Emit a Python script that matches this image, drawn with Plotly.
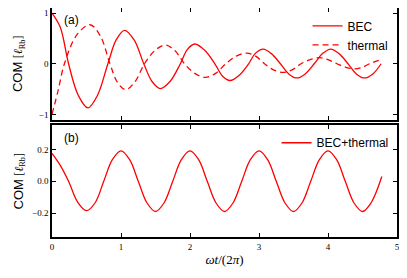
import plotly.graph_objects as go
from plotly.subplots import make_subplots

# ---- data ----
t_bec = [0, 0.12, 0.24, 0.38, 0.52, 0.66, 0.81, 0.93, 1.05, 1.19, 1.33, 1.45, 1.57, 1.71,
         1.86, 1.96, 2.07, 2.21, 2.36, 2.47, 2.58, 2.71, 2.85, 2.95, 3.06, 3.18, 3.31, 3.43,
         3.55, 3.67, 3.80, 3.92, 4.04, 4.16, 4.29, 4.41, 4.53, 4.65, 4.77]
bec = [1.0, 0.72, 0.0, -0.62, -0.87, -0.62, 0.0, 0.47, 0.66, 0.47, 0.0, -0.35, -0.49, -0.35,
       0.0, 0.28, 0.39, 0.27, 0.0, -0.24, -0.33, -0.23, 0.0, 0.21, 0.29, 0.20, 0.0, -0.20,
       -0.28, -0.20, 0.0, 0.20, 0.29, 0.20, 0.0, -0.20, -0.28, -0.20, 0.0]

t_th = [0, 0.09, 0.18, 0.36, 0.55, 0.70, 0.84, 0.95, 1.07, 1.20, 1.34, 1.49, 1.64, 1.78,
        1.92, 2.07, 2.22, 2.37, 2.52, 2.67, 2.82, 2.95, 3.08, 3.21, 3.35, 3.48, 3.61, 3.74,
        3.88, 4.00, 4.13, 4.26, 4.39, 4.50, 4.60, 4.77]
thermal = [-1.0, -0.52, 0.0, 0.57, 0.77, 0.55, 0.0, -0.37, -0.51, -0.36, 0.0, 0.26, 0.37, 0.26,
           0.0, -0.19, -0.27, -0.19, 0.0, 0.15, 0.21, 0.15, 0.0, -0.12, -0.17, -0.12, 0.0, 0.08,
           0.12, 0.08, 0.0, -0.07, -0.10, -0.07, 0.0, 0.08]

t_mix = [0, 0.12, 0.24, 0.37, 0.5, 0.625, 0.75, 0.875, 1.0, 1.125, 1.25, 1.375, 1.5, 1.625,
         1.75, 1.875, 2.0, 2.125, 2.25, 2.375, 2.5, 2.625, 2.75, 2.875, 3.0, 3.125, 3.25,
         3.375, 3.5, 3.625, 3.75, 3.875, 4.0, 4.125, 4.25, 4.375, 4.5, 4.625, 4.78]
mix = [0.175, 0.10, 0.0, -0.13, -0.185, -0.135, 0.0, 0.135, 0.19, 0.135, 0.0, -0.135, -0.19, -0.135,
       0.0, 0.135, 0.19, 0.135, 0.0, -0.135, -0.19, -0.135, 0.0, 0.135, 0.19, 0.135, 0.0,
       -0.135, -0.19, -0.135, 0.0, 0.135, 0.19, 0.135, 0.0, -0.135, -0.19, -0.135, 0.03]

x_ticks = [0, 1, 2, 3, 4, 5]
top_ticks = [-1, 0, 1]
top_labels = ["\u22121", "0", "1"]
bot_ticks = [-0.2, 0.0, 0.2]
bot_labels = ["\u22120.2", "0.0", "0.2"]

RED = "#ff0000"
SERIF = "Liberation Serif"
SANS = "Liberation Sans"

fig = make_subplots(rows=2, cols=1, shared_xaxes=False, vertical_spacing=0.03)

line_kw = dict(color=RED, width=1.3, shape="spline", smoothing=1.0)
fig.add_trace(go.Scatter(x=t_bec, y=bec, mode="lines", name="BEC",
                         line=line_kw, legend="legend"), row=1, col=1)
fig.add_trace(go.Scatter(x=t_th, y=thermal, mode="lines", name="thermal",
                         line=dict(line_kw, dash="6px,4px"), legend="legend"), row=1, col=1)
fig.add_trace(go.Scatter(x=t_mix, y=mix, mode="lines", name="BEC+thermal",
                         line=line_kw, legend="legend2"), row=2, col=1)

axis_common = dict(showline=True, mirror="allticks", linecolor="black", linewidth=1.6,
                   ticks="inside", ticklen=4, tickwidth=0.8, tickcolor="black",
                   showgrid=False, zeroline=False, automargin=False,
                   tickfont=dict(family=SERIF, size=9, color="black"))

fig.update_xaxes(range=[0, 5], tickvals=x_ticks, **axis_common)
fig.update_xaxes(showticklabels=False, row=1, col=1)
fig.update_xaxes(ticktext=[str(v) for v in x_ticks], row=2, col=1,
                 title=dict(text="<i>\u03c9t</i>/(2<i>\u03c0</i>)",
                            font=dict(family=SERIF, size=13, color="black"), standoff=4))

ytitle = ("<span style='font-family:Liberation Sans;font-size:13px'>COM</span> "
          "<span style='font-family:Liberation Serif;font-size:12px'>[<i>\u2113</i><sub>Rb</sub>]</span>")
fig.update_yaxes(range=[-1.1, 1.1], tickvals=top_ticks, ticktext=top_labels, row=1, col=1,
                 title=dict(text=ytitle, standoff=14, font=dict(size=13, color="black")), **axis_common)
fig.update_yaxes(range=[-0.35, 0.35], tickvals=bot_ticks, ticktext=bot_labels, row=2, col=1,
                 title=dict(text=ytitle, standoff=6, font=dict(size=13, color="black")), **axis_common)

# page body has an 8px default margin, so the figure is shifted 8px right/down
fig.update_layout(
    width=399, height=270,
    margin=dict(l=44, r=10, t=0, b=41),
    paper_bgcolor="white", plot_bgcolor="white",
    yaxis=dict(domain=[0.513, 1.0]),
    yaxis2=dict(domain=[0.0, 0.487]),
    legend=dict(x=0.99, y=0.985, xanchor="right", yanchor="top", bgcolor="rgba(0,0,0,0)",
                font=dict(family=SANS, size=12, color="black"), tracegroupgap=0, itemwidth=30),
    legend2=dict(x=0.99, y=0.475, xanchor="right", yanchor="top", bgcolor="rgba(0,0,0,0)",
                 font=dict(family=SANS, size=12, color="black"), itemwidth=30),
    showlegend=True,
)

fig.add_annotation(text="(a)", xref="x domain", yref="y domain", x=0.03, y=0.97,
                   xanchor="left", yanchor="top", showarrow=False,
                   font=dict(family=SANS, size=12, color="black"))
fig.add_annotation(text="(b)", xref="x2 domain", yref="y2 domain", x=0.03, y=0.97,
                   xanchor="left", yanchor="top", showarrow=False,
                   font=dict(family=SANS, size=12, color="black"))

fig.write_html("out.html")
